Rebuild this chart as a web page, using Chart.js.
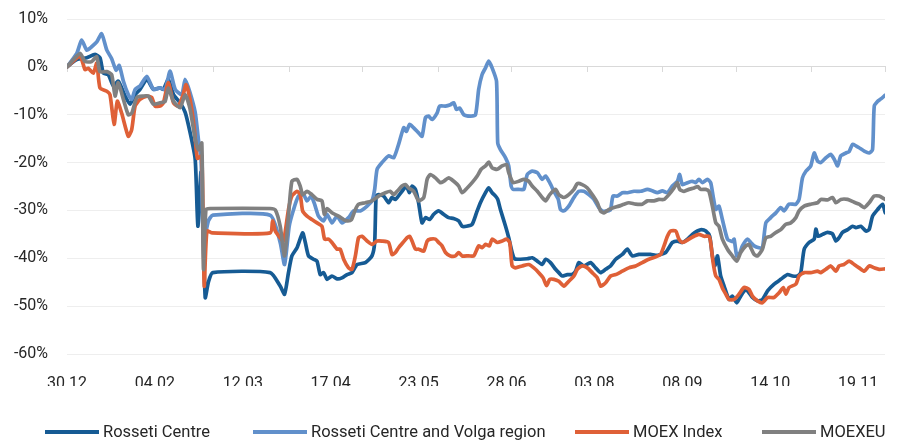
<!DOCTYPE html>
<html>
<head>
<meta charset="utf-8">
<script src="https://cdn.jsdelivr.net/npm/chart.js@4.4.1/dist/chart.umd.min.js"></script>
<style>
  html, body { margin: 0; padding: 0; background: #fff; }
  #wrap { width: 899px; height: 444px; }
</style>
</head>
<body>
<div id="wrap"><canvas id="chart"></canvas></div>
<script>
// x = days since 30.12, y = change in %
const xTickDays = [0, 36, 72, 108, 144, 180, 216, 252, 288, 324];
const xTickLabels = ["30.12", "04.02", "12.03", "17.04", "23.05", "28.06", "03.08", "08.09", "14.10", "19.11"];
const monthTickDays = [0, 31, 60, 91, 121, 152, 182, 213, 244, 274, 305, 335];
const seriesNames = ["Rosseti Centre", "Rosseti Centre and Volga region", "MOEX Index", "MOEXEU"];
const seriesColors = ["#165b94", "#6190cb", "#df6037", "#808080"];

const centreDays = [0, 4, 8.1, 11.5, 13.5, 14.9, 16.9, 19, 21, 23.8, 25.8, 27.9, 29.9, 32.7, 35.4, 38.1, 39.5, 41.5, 43.6, 46.3, 48.4, 50.4, 52.5, 53.6, 54.9, 56.6, 57.9, 59.7, 83.2, 87.3, 89.1, 90.7, 92.1, 94.2, 96.5, 97.6, 98.9, 101, 102.4, 103.7, 105.1, 106.5, 108.5, 110.6, 112.6, 114.7, 116.7, 118.8, 122.2, 124.9, 126, 126.6, 127.6, 129.7, 131.7, 133.1, 134.5, 137.2, 139, 140.2, 141.3, 142.7, 144, 145.4, 146.8, 148.5, 150.2, 152.2, 154.2, 156.3, 158.3, 160.4, 161.8, 163.6, 165.9, 167.7, 169.3, 171.4, 172.7, 174.1, 175.5, 176.4, 177.5, 179.6, 180.9, 182.3, 183.3, 185.7, 188.5, 190.5, 192.6, 194.6, 196, 198, 200.1, 201.4, 202.8, 204.9, 206.9, 208.3, 209.6, 211.7, 214.4, 216.5, 218.5, 220.6, 222.6, 224.7, 227.4, 229.5, 231.5, 234.2, 237, 239, 241.1, 243.1, 245.2, 246.5, 247.9, 250, 252, 254.1, 256.1, 258.2, 259.8, 261.6, 263.2, 264.3, 265.4, 266.4, 267.7, 269.1, 271.1, 272.5, 274.3, 275.9, 278, 279.3, 280.7, 282.8, 284.8, 286.9, 289.6, 292.3, 295.1, 297.1, 299.2, 300.5, 301.9, 303.9, 306, 306.7, 307.6, 309.4, 311.5, 313.5, 314.9, 316.2, 317.6, 319.7, 321.7, 323.1, 325.1, 327.2, 328.5, 329.9, 332, 334, 335.1];
const centreValues = [0, 1.5, 1.9, 2.6, 1.9, -1.3, -1.6, -4.0, -3.0, -6.1, -7.8, -5.8, -4.7, -2.6, -4.7, -4.4, -4.7, -2.6, -5.8, -7.5, -9.5, -13.7, -19.3, -33.3, -22.0, -48.2, -45.0, -43.0, -43.0, -45.8, -47.5, -43.0, -39.5, -37.8, -34.7, -36.7, -39.5, -40.2, -40.6, -43.4, -43.0, -44.4, -43.7, -44.3, -44.1, -43.4, -43.0, -41.3, -40.9, -39.5, -36.7, -27.0, -26.7, -27.0, -28.4, -27.3, -27.7, -26.0, -24.9, -26.3, -24.9, -25.6, -28.4, -32.6, -31.5, -31.9, -30.8, -30.1, -30.8, -31.5, -31.7, -32.2, -33.3, -33.3, -32.9, -30.5, -28.4, -26.3, -25.3, -26.3, -27.0, -27.7, -29.8, -33.3, -35.7, -38.8, -40.1, -40.2, -40.1, -39.9, -40.6, -41.3, -40.2, -40.9, -42.3, -43.0, -43.7, -43.4, -43.4, -42.7, -40.9, -41.6, -40.9, -42.0, -43.0, -42.3, -41.6, -40.2, -39.2, -38.1, -39.5, -39.2, -39.2, -39.2, -39.4, -39.2, -38.8, -37.8, -36.7, -36.4, -36.7, -36.0, -35.0, -34.3, -34.0, -34.3, -35.4, -39.5, -41.6, -39.5, -43.7, -45.8, -48.6, -47.9, -49.3, -47.9, -46.5, -47.2, -48.2, -48.9, -48.6, -46.8, -45.4, -44.4, -43.4, -43.7, -43.7, -43.0, -38.1, -36.7, -36.0, -33.9, -35.4, -35.0, -34.6, -34.9, -36.4, -35.7, -34.6, -34.0, -33.3, -33.6, -33.3, -34.3, -34.0, -31.2, -29.8, -28.7, -30.5];

const volgaDays = [0, 4, 6, 8.1, 10.1, 12.2, 14.2, 16.3, 18.3, 20.1, 21.4, 23.1, 25.1, 26.5, 27.9, 29.9, 32.7, 35.4, 38.1, 40.2, 42.2, 44.3, 47, 48.4, 50.4, 52.5, 53.8, 54.9, 55.9, 57.9, 59.7, 83.2, 87.3, 89.1, 91, 92.8, 94.8, 96.9, 98.3, 100, 101.4, 103, 105.1, 106.5, 108.5, 110.6, 112.6, 115.3, 117.4, 120.1, 122.9, 124.9, 126, 127, 129, 131.7, 133.8, 135.8, 137.9, 139, 140.3, 141.9, 144, 145.4, 146.8, 148.1, 149.5, 151.6, 152.6, 155, 157, 158.4, 159.5, 160.8, 162.5, 165.2, 167.3, 168.6, 170, 171.4, 172.7, 174.1, 175.9, 176.4, 177.5, 179.6, 180.9, 181.9, 182.7, 185, 187.1, 188.5, 190.5, 192.6, 194.6, 196, 197.7, 199.4, 201.2, 202.1, 203.5, 205.5, 207.6, 209.6, 211.7, 213.7, 215.8, 217.8, 219.2, 221.3, 222.6, 223.6, 225.4, 227.4, 229.5, 232.2, 234.9, 237.7, 239.7, 241.8, 243.8, 245.9, 247.9, 250, 250.9, 252, 254.1, 256.1, 257.5, 258.8, 260.2, 262.3, 263.6, 264.6, 265.7, 267, 268.4, 270.5, 272.5, 273.2, 274.3, 275.6, 276.6, 278.7, 280, 281.4, 283.4, 284.8, 286.2, 288.2, 290.3, 292.3, 293.7, 295.7, 298.5, 299.8, 301.2, 302.6, 304.6, 306, 307.4, 308.7, 310.8, 312.8, 314.2, 315.6, 316.9, 319, 320.3, 321.7, 323.1, 324.4, 326.5, 328.5, 329.9, 330.6, 332, 333.3, 335.1];
const volgaValues = [0, 2.8, 5.6, 3.5, 4.2, 5.2, 6.9, 3.5, 1.7, -0.7, 0.3, -3.0, -5.8, -6.8, -4.7, -4.0, -2.0, -4.7, -4.4, -4.7, -0.9, -4.7, -5.8, -2.6, -5.4, -9.5, -15.1, -19.3, -36.7, -32.2, -31.0, -31.0, -36.7, -41.3, -33.3, -29.8, -27.0, -26.7, -28.0, -27.0, -28.7, -31.2, -32.2, -30.8, -32.6, -31.2, -32.6, -31.5, -30.1, -30.1, -29.1, -28.0, -25.6, -21.4, -20.0, -18.6, -19.0, -16.2, -12.7, -13.5, -12.0, -12.7, -13.8, -14.5, -10.6, -10.3, -11.0, -9.6, -8.2, -8.2, -7.9, -7.5, -8.9, -8.6, -10.0, -10.3, -10.0, -4.7, -1.6, -0.2, 1.2, -0.2, -3.0, -15.9, -17.3, -19.0, -20.7, -24.9, -25.6, -25.6, -25.6, -22.5, -21.8, -22.1, -23.5, -22.8, -24.2, -26.0, -27.7, -29.8, -30.1, -29.1, -27.3, -26.0, -26.0, -26.7, -27.7, -29.4, -30.1, -30.1, -29.8, -27.0, -27.0, -26.3, -26.3, -26.0, -26.0, -25.6, -25.9, -26.3, -25.9, -26.3, -24.9, -23.9, -22.5, -24.6, -24.2, -23.9, -24.2, -23.5, -24.2, -23.5, -24.2, -27.0, -29.8, -29.1, -31.9, -36.0, -36.5, -36.0, -39.5, -38.8, -37.4, -36.0, -36.7, -37.4, -37.8, -37.8, -32.6, -31.5, -30.5, -29.4, -30.1, -28.7, -28.7, -27.7, -23.2, -21.8, -20.7, -18.0, -19.7, -20.0, -19.0, -18.3, -19.3, -20.7, -18.6, -18.0, -17.7, -16.2, -16.5, -16.9, -17.6, -18.0, -17.3, -8.2, -7.2, -6.7, -5.9];

const moexDays = [0, 5.3, 7.4, 8.7, 10.8, 12.2, 13.5, 16.3, 17.6, 19.3, 20.6, 22.4, 25.1, 26.5, 27.9, 29.9, 32.7, 34.7, 36.1, 38.1, 39.5, 41.5, 43.6, 45.5, 47.4, 48.8, 50.4, 52.1, 53.4, 55.2, 56.2, 57.3, 59.5, 83.2, 84.2, 85.3, 87.3, 88.7, 90.7, 92.1, 94.2, 95.5, 96.5, 98.3, 100.3, 102.4, 104.4, 105.5, 107.1, 108.5, 110.6, 111.9, 113.3, 115.3, 116.7, 118.1, 119.4, 120.8, 122.9, 124.9, 127, 129, 131.7, 133.1, 134.5, 135.8, 137.6, 139.3, 140.3, 141.3, 142.7, 144, 146.1, 147.5, 148.8, 150.9, 152.2, 153.6, 155, 157, 159.1, 160.4, 161.8, 164.5, 166.6, 168.6, 170, 171.4, 173, 174.1, 176.2, 178.2, 180, 181.3, 182.3, 183.7, 186.4, 189.1, 191.2, 193.2, 195, 196.4, 197.7, 199.4, 201.4, 203.5, 205.5, 207.6, 209, 211, 213.1, 215.1, 217.2, 218.5, 220.6, 222.6, 224.7, 227.4, 230.1, 232.9, 235.6, 238.3, 241.1, 243.1, 244.5, 245.9, 247.2, 249.3, 250.6, 252, 253.4, 254.7, 256.8, 258.8, 260.9, 262.9, 263.6, 264.6, 265.7, 267, 268.4, 269.8, 271.1, 273.2, 275.2, 277.3, 279.3, 280.7, 282.8, 284.8, 286.9, 289.5, 291.6, 293.4, 294.4, 295.7, 298.5, 299.8, 301.9, 304.6, 307.4, 308.7, 310.8, 312.8, 314.9, 316.2, 318.2, 320.3, 322.4, 324.4, 326.5, 328.5, 330.6, 332.6, 335.1];
const moexValues = [0, 2.2, -0.6, -0.3, -1.3, 0.8, -4.4, -5.1, -5.8, -12.0, -7.2, -9.7, -14.5, -13.1, -8.2, -6.8, -6.1, -6.4, -8.2, -8.2, -7.5, -3.3, -7.5, -8.2, -6.1, -3.7, -6.8, -12.7, -19.1, -18.6, -45.8, -34.3, -34.7, -34.7, -32.2, -34.3, -35.7, -36.4, -29.8, -27.0, -26.0, -26.7, -30.1, -31.2, -31.9, -32.6, -33.3, -36.0, -36.0, -36.7, -38.1, -38.1, -40.2, -42.0, -42.3, -39.5, -35.7, -35.4, -36.4, -37.1, -36.4, -36.4, -36.7, -39.2, -38.8, -37.8, -36.7, -35.7, -35.4, -36.4, -38.1, -38.1, -38.5, -36.4, -36.0, -36.0, -36.7, -37.4, -38.8, -39.5, -39.5, -38.8, -39.5, -39.5, -39.5, -37.4, -37.8, -37.1, -37.4, -36.0, -36.7, -36.4, -36.0, -36.7, -41.6, -42.0, -41.6, -41.3, -42.0, -43.0, -44.1, -45.7, -44.4, -44.4, -44.8, -45.8, -44.8, -43.7, -42.3, -41.6, -42.0, -43.0, -44.1, -45.8, -45.1, -43.7, -43.4, -42.7, -42.0, -41.6, -40.9, -40.2, -39.7, -39.2, -37.4, -35.4, -34.3, -34.3, -36.0, -36.7, -36.4, -36.0, -35.4, -35.0, -35.4, -35.4, -36.7, -40.9, -43.7, -44.4, -46.2, -47.5, -48.6, -48.6, -47.5, -46.1, -46.5, -47.9, -48.9, -49.3, -48.2, -48.2, -47.2, -46.1, -47.5, -46.1, -45.4, -43.7, -43.0, -43.0, -42.7, -43.0, -42.3, -41.6, -42.7, -41.6, -41.3, -40.6, -41.3, -42.0, -42.7, -41.6, -42.0, -42.3, -42.2];

const moexeuDays = [0, 5.3, 7.4, 10.1, 12.2, 13.5, 16.3, 18.3, 19.7, 21, 23.1, 25.1, 26.5, 28.6, 31.3, 33.3, 35.4, 38.1, 40.2, 41.5, 43.6, 46.3, 48.4, 50.4, 52.5, 53.8, 55.2, 55.9, 56.9, 58.6, 83.2, 85.3, 87.3, 89.1, 90.7, 92.1, 94.2, 95.5, 96.5, 98.3, 100.3, 102.4, 104.4, 105.4, 106.5, 108.5, 111.2, 113.3, 114.7, 116.4, 118.1, 119.4, 122.2, 124.9, 127.6, 130.4, 132.4, 133.8, 135.2, 137.2, 138.6, 139.9, 142, 144, 146.1, 147.5, 148.8, 150.9, 152.9, 154.3, 156.3, 158.4, 160.4, 161.8, 163.9, 165.9, 168, 169.6, 171.4, 172.7, 174.1, 176.2, 178.2, 180, 180.9, 182.7, 185, 187.1, 189.1, 190.5, 192.6, 194.6, 196, 197.7, 200.1, 201.4, 203.5, 205.5, 207.6, 209, 211, 213.1, 215.1, 217.2, 218.5, 219.9, 222, 224, 226, 228.1, 230.1, 232.9, 235.6, 237.7, 240.4, 242.4, 244.5, 246.5, 248.6, 250, 250.9, 252.7, 254.7, 256.8, 258.3, 259.5, 261.6, 262.9, 264.3, 265.7, 267, 268.4, 270.5, 272.5, 274.3, 275.9, 278, 279.3, 281.4, 282.8, 284.8, 286.2, 288.2, 290.3, 292.3, 294.4, 296.4, 298.5, 299.8, 301.9, 304.6, 307.4, 308.7, 311.5, 313.5, 314.9, 316.9, 319.7, 322.4, 324.4, 326.5, 328.5, 330.6, 332.6, 335.1];
const moexeuValues = [0, 2.8, 1.1, 1.1, 2.1, -1.0, -1.0, -1.6, -6.1, -3.3, -6.8, -10.0, -9.7, -6.4, -6.1, -6.1, -7.8, -7.5, -7.2, -4.4, -7.2, -8.5, -5.8, -8.8, -15.1, -17.3, -15.9, -42.3, -29.8, -29.6, -29.6, -29.9, -33.3, -39.5, -31.2, -23.9, -23.5, -24.9, -26.7, -26.0, -26.7, -27.7, -28.0, -30.8, -29.6, -30.5, -31.2, -31.9, -32.2, -32.0, -29.8, -28.7, -28.4, -28.0, -27.0, -26.3, -26.0, -26.7, -26.0, -24.9, -24.6, -25.3, -26.0, -28.0, -27.3, -23.5, -22.5, -23.2, -24.2, -23.9, -23.2, -23.9, -24.9, -26.3, -25.3, -24.2, -22.8, -21.4, -20.7, -19.9, -21.1, -21.4, -20.7, -20.4, -22.1, -24.2, -23.9, -23.5, -23.9, -24.9, -26.0, -27.3, -28.0, -26.7, -25.6, -26.7, -27.3, -26.7, -25.6, -24.4, -24.6, -25.3, -26.7, -28.4, -30.1, -30.5, -29.8, -29.4, -29.1, -28.7, -28.4, -28.7, -28.7, -28.0, -28.0, -27.7, -27.7, -26.7, -25.3, -24.2, -25.6, -26.0, -25.6, -25.3, -25.0, -25.6, -25.6, -26.0, -29.1, -32.6, -33.3, -36.0, -38.1, -39.5, -40.6, -38.8, -37.4, -37.1, -39.2, -39.5, -38.1, -35.7, -35.4, -34.6, -34.0, -32.9, -32.6, -31.5, -30.1, -29.1, -28.7, -28.4, -27.7, -27.8, -27.3, -28.4, -27.7, -27.7, -28.3, -28.7, -29.4, -28.4, -27.0, -27.0, -27.7];

const seriesDays = [centreDays, volgaDays, moexDays, moexeuDays];
const seriesValues = [centreValues, volgaValues, moexValues, moexeuValues];

const FONT = "Roboto, 'Noto Sans', sans-serif";
const TEXT = "#262626";

const datasets = seriesNames.map((name, i) => ({
  label: name,
  data: seriesDays[i].map((d, j) => ({ x: d, y: seriesValues[i][j] })),
  borderColor: seriesColors[i],
  backgroundColor: seriesColors[i],
  borderWidth: 3.7,
  pointRadius: 0,
  tension: 0.2,
  borderJoinStyle: "round",
  borderCapStyle: "round",
  // later series on top, like the original
  order: seriesNames.length - i,
}));

// one-row legend at the bottom, spaced like the original
const lineLegend = {
  id: "lineLegend",
  afterDraw(chart) {
    const { ctx } = chart;
    const startX = [45, 253, 575, 762];
    const y = 432;
    ctx.save();
    ctx.font = `16.5px ${FONT}`;
    ctx.textBaseline = "middle";
    ctx.textAlign = "left";
    chart.data.datasets.forEach((ds, i) => {
      ctx.fillStyle = ds.borderColor;
      ctx.fillRect(startX[i], y - 2, 54, 4);
      ctx.fillStyle = TEXT;
      ctx.fillText(ds.label, startX[i] + 58, y + 1);
    });
    ctx.restore();
  },
};

new Chart(document.getElementById("chart"), {
  type: "line",
  data: { datasets },
  plugins: [lineLegend],
  options: {
    responsive: true,
    maintainAspectRatio: false,
    animation: false,
    layout: { padding: { top: 19, right: 14, left: 0, bottom: 58 } },
    plugins: {
      tooltip: { enabled: false },
      legend: { display: false },
    },
    scales: {
      x: {
        type: "linear",
        min: 0,
        max: 335,
        grid: { display: false, drawTicks: false },
        border: { display: false },
        afterBuildTicks: (scale) => { scale.ticks = xTickDays.map(v => ({ value: v })); },
        afterFit: (scale) => { scale.height = 32; scale.paddingLeft = 0; scale.paddingRight = 0; },
        ticks: {
          padding: 20,
          maxRotation: 0,
          autoSkip: false,
          color: TEXT,
          font: { family: FONT, size: 16 },
          callback: (v) => xTickLabels[xTickDays.indexOf(v)] || "",
        },
      },
      xm: {
        type: "linear",
        position: { y: 0 },
        min: 0,
        max: 335,
        afterBuildTicks: (scale) => { scale.ticks = monthTickDays.map(v => ({ value: v })); },
        grid: { drawOnChartArea: false, tickLength: 5, color: "#d9d9d9" },
        border: { color: "#d9d9d9" },
        ticks: { display: false },
      },
      y: {
        min: -60,
        max: 10,
        afterFit: (scale) => { scale.width = 67; scale.paddingTop = 0; scale.paddingBottom = 0; },
        grid: {
          drawTicks: false,
          color: (c) => (c.tick && c.tick.value === 0 ? "#d9d9d9" : "#eeeeee"),
        },
        border: { display: false },
        ticks: {
          stepSize: 10,
          padding: 19,
          color: TEXT,
          font: { family: FONT, size: 16 },
          callback: (v) => v + "%",
        },
      },
    },
  },
});
</script>
</body>
</html>
